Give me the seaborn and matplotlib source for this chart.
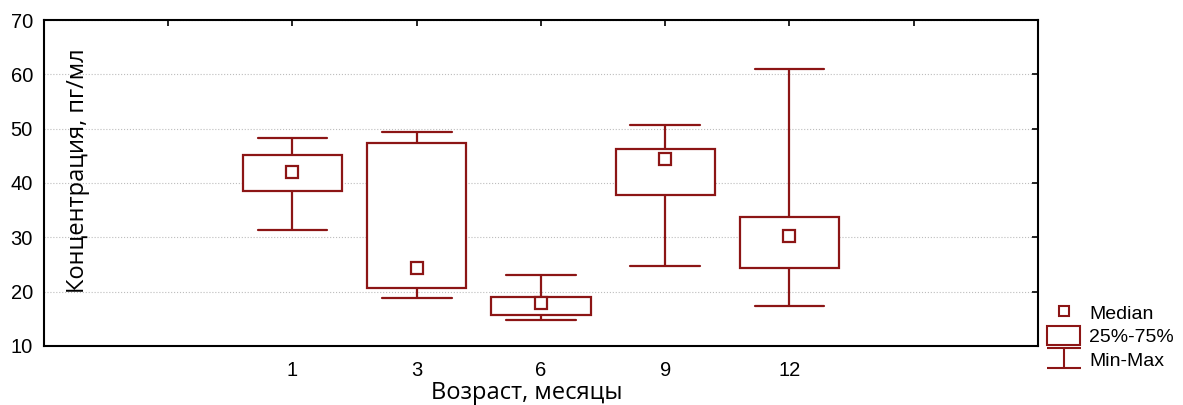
import numpy as np
import pandas as pd
import seaborn as sns
import matplotlib.pyplot as plt
from matplotlib.lines import Line2D
from matplotlib.patches import Patch
from matplotlib.path import Path

# age groups (months) and box statistics, pg/ml
ages = ["1", "3", "6", "9", "12"]
mins = [31.3, 18.8, 14.8, 24.8, 17.4]
q1 = [38.6, 20.6, 15.7, 37.7, 24.3]
medians = [42.0, 24.4, 17.9, 44.4, 30.2]
q3 = [45.2, 47.3, 19.0, 46.3, 33.8]
maxs = [48.3, 49.3, 23.1, 50.7, 61.0]

red = "#8c1515"

# 5 points per group -> percentiles land exactly on min/q1/median/q3/max
rows = []
for i, a in enumerate(ages):
    for v in [mins[i], q1[i], medians[i], q3[i], maxs[i]]:
        rows.append({"age": a, "value": v})
df = pd.DataFrame(rows)
df_med = pd.DataFrame({"age": ages, "median": medians})

sns.set_style("white")
plt.rcParams["font.family"] = ["Liberation Sans", "DejaVu Sans"]
plt.rcParams["text.color"] = "black"

fig = plt.figure(figsize=(11.83, 4.05), dpi=100)
ax = fig.add_axes([0.0372, 0.1457, 0.8402, 0.8049])

sns.boxplot(data=df, x="age", y="value", order=ages, whis=(0, 100),
            color="white", linecolor=red, linewidth=1.6, width=0.8,
            medianprops={"visible": False}, capwidths=0.56, ax=ax)
sns.pointplot(data=df_med, x="age", y="median", order=ages, linestyle="none",
              marker="s", markersize=8, color=red, errorbar=None,
              markerfacecolor="white", markeredgecolor=red,
              markeredgewidth=1.6, ax=ax)

ax.set_xlim(-2, 6)
ax.set_ylim(10, 70)
ax.set_xticks(range(-1, 6))
ax.set_xticklabels([""] + ages + [""])
ax.set_yticks(range(10, 71, 10))
ax.tick_params(axis="both", direction="in", length=4, width=1.2,
               colors="black", labelsize=14.5, top=True, right=True)
ax.tick_params(axis="x", pad=11)
ax.tick_params(axis="y", pad=8)
ax.yaxis.grid(True, linestyle=":", color="#bdbdbd", linewidth=0.8)
ax.set_axisbelow(True)
for s in ax.spines.values():
    s.set_color("black")
    s.set_linewidth(1.5)

ax.set_xlabel("Возраст, месяцы", fontsize=17, family="Open Sans",
              color="black")
ax.xaxis.set_label_coords(0.486, -0.108)
ax.set_ylabel("")
ax.text(0.034, 0.537, "Концентрация, пг/мл", transform=ax.transAxes,
        rotation=90, ha="center", va="center", fontsize=17,
        family="Open Sans", color="black")

# min-max symbol for the legend
minmax_path = Path([(-1, 0.6), (1, 0.6), (0, 0.6), (0, -0.6), (-1, -0.6), (1, -0.6)],
                   [Path.MOVETO, Path.LINETO, Path.MOVETO, Path.LINETO,
                    Path.MOVETO, Path.LINETO])
handles = [
    Line2D([], [], marker="s", linestyle="none", markersize=7,
           markerfacecolor="white", markeredgecolor=red, markeredgewidth=1.5),
    Patch(facecolor="white", edgecolor=red, linewidth=1.5),
    Line2D([], [], marker=minmax_path, linestyle="none", markersize=24,
           markerfacecolor="none", markeredgecolor=red, markeredgewidth=1.5),
]
fig.legend(handles, ["Median", "25%-75%", "Min-Max"], loc="lower left",
           bbox_to_anchor=(0.877, 0.062), frameon=False, fontsize=14,
           handlelength=1.7, handleheight=1.1, handletextpad=0.45,
           labelspacing=0.2, borderpad=0, labelcolor="black")

fig.savefig("out.png", dpi=100)
